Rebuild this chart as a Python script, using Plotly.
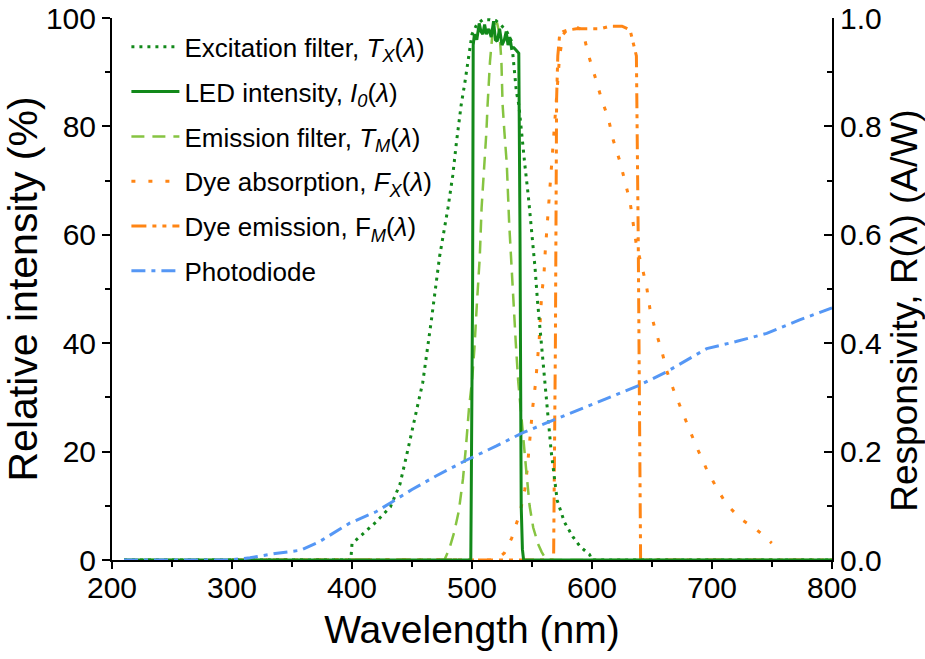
import plotly.graph_objects as go

# ---- spectral data (wavelength in nm) ----
# Excitation filter transmission T_X (%)
exc_wl = [210, 300, 399, 400, 410, 420, 432, 440, 446, 452, 459, 466, 473, 480, 484,
          487, 491, 494, 497, 500, 504, 509, 515, 520, 525, 529, 533, 535, 537, 539,
          541, 544, 547, 550, 552.5, 554.5, 557, 559, 562, 566, 571, 577, 584, 590,
          598, 600, 700, 800]
exc_val = [0, 0, 0, 3, 5, 7, 9.8, 14, 19.8, 26, 32.8, 44, 56, 65, 71,
           77, 84, 88, 93, 97, 98.8, 99.7, 99.7, 99.5, 98.5, 97.5, 95.7, 91, 86.4, 84,
           79, 73, 67, 60.5, 54, 48, 42, 36, 29, 20, 11, 7, 4.3, 2.5,
           1, 0, 0, 0]

# LED intensity I_0 (%)
led_wl = [210, 300, 400, 499, 500.5, 501, 502, 504, 506, 507.5, 509, 510.5, 512, 514,
          516, 518, 519.5, 521, 523, 525, 527, 528.5, 530, 531.5, 533, 535, 537, 539,
          540, 541, 542, 543, 600, 700, 800]
led_val = [0, 0, 0, 0, 50, 95, 97, 96, 99, 97.5, 97, 98.8, 97, 98,
           96.5, 99.4, 96, 95.7, 98, 95, 96, 97.5, 95, 96.5, 94.4, 94.5, 94, 93.5,
           60, 10, 2, 0, 0, 0, 0]

# Emission filter transmission T_M (%)
emf_wl = [210, 400, 477, 481, 485, 489, 492.5, 495, 497.5, 500, 502, 504, 506.5, 508,
          509.5, 512, 513, 515, 517, 519, 521, 523, 524.5, 525.5, 527, 529, 531, 533,
          534.5, 536.5, 538.5, 540, 543, 545, 548, 551, 555, 558, 562, 600, 800]
emf_val = [0, 0, 0, 2, 5, 9, 15, 21, 28, 33, 39, 47, 56, 65,
           70, 79, 84, 92, 97, 99, 99, 97, 92, 84, 79, 73, 62, 53,
           47, 40, 33, 29, 22, 17, 10, 6, 3, 1.5, 0, 0, 0]

# Dye absorption F_X (%)
abs_wl = [300, 400, 500, 520, 527, 533, 540, 544, 546, 548, 550.5, 553, 556, 558, 560,
          561, 562.2, 563.6, 565, 566.4, 569, 571, 573, 576, 580, 585, 590, 594, 597,
          602.5, 608, 613.6, 617.8, 623.3, 627.5, 631.7, 634.4, 637.2, 641.4, 645.6,
          648.3, 652.5, 658.1, 662.3, 667.8, 674.7, 681.1, 688.1, 695, 703.1, 711.7,
          723.3, 737.2, 749.8]
abs_val = [0, 0, 0, 0, 1.3, 4, 8.7, 13, 16.7, 22, 28, 32.7, 40.7, 48.8, 52.8,
           56.8, 60.5, 64.8, 68.5, 72.8, 80.6, 87, 93, 97, 98, 98.5, 98, 96, 93.2,
           89.2, 85, 81.5, 77.4, 73.5, 69.8, 66.1, 62, 57.8, 54.4, 50.3,
           46.3, 42.6, 38.6, 34.9, 31.5, 27.5, 24.1, 20.4, 17, 13.6, 10.4,
           7.7, 5.6, 3.1]

# Dye emission F_M (%)
dem_wl = [300, 400, 500, 568, 569.5, 570.5, 571.5, 573, 576, 580, 587, 598, 607, 615,
          625, 631.7, 634, 637, 638.5, 639.5, 640.5, 700, 800]
dem_val = [0, 0, 0, 0, 40, 85, 93, 96.8, 97.5, 97.8, 98, 98, 98, 98.5,
           98.5, 97.8, 95.7, 93, 60, 20, 0, 0, 0]

# Photodiode responsivity R (A/W), right axis
pd_wl = [210, 250, 298, 315, 336, 357, 373, 398, 420, 434, 450, 470, 496, 520, 542.5,
         570, 609.4, 640, 662, 680, 695.6, 720, 745.6, 773, 795.6, 800]
pd_val = [0, 0, 0, 0.004, 0.012, 0.018, 0.034, 0.068, 0.089, 0.108, 0.13, 0.155,
          0.185, 0.21, 0.235, 0.26, 0.295, 0.323, 0.347, 0.37, 0.39, 0.403, 0.418,
          0.443, 0.461, 0.465]

# tick marks of the plain top frame axis
top_ticks = list(range(0, 12))

DARK_GREEN = "#12891a"
LIGHT_GREEN = "#86c441"
ORANGE = "#ff8514"
BLUE = "#5597f5"
FONT = "Liberation Sans, Arial, sans-serif"

fig = go.Figure()

series = [
    (pd_wl, pd_val, "Photodiode", BLUE, "14px,6px,4px,6px", 3, "y2", 6),
    (abs_wl, abs_val, "Dye absorption, <i>F<sub>X</sub></i>(<i>λ</i>)", ORANGE, "4px,13px", 3, "y", 4),
    (dem_wl, dem_val, "Dye emission, F<sub><i>M</i></sub>(<i>λ</i>)", ORANGE, "15px,6px,4px,6px,4px,6px", 3, "y", 5),
    (emf_wl, emf_val, "Emission filter, <i>T<sub>M</sub></i>(<i>λ</i>)", LIGHT_GREEN, "13px,8px", 2.5, "y", 3),
    (exc_wl, exc_val, "Excitation filter, <i>T<sub>X</sub></i>(<i>λ</i>)", DARK_GREEN, "3px,5px", 3, "y", 1),
    (led_wl, led_val, "LED intensity, <i>I<sub>0</sub></i>(<i>λ</i>)", DARK_GREEN, "solid", 3, "y", 2),
]

for wl, val, name, color, dash, width, yax, rank in series:
    fig.add_trace(go.Scatter(
        x=wl, y=val, name=name, mode="lines", yaxis=yax,
        line=dict(color=color, dash=dash, width=width),
        legendgroup=name, legendrank=rank,
    ))

axis_line = dict(showline=True, linecolor="black", linewidth=2, showgrid=False,
                 zeroline=False, automargin=False)

fig.update_layout(
    width=925, height=659,
    margin=dict(l=112, r=93, t=18, b=99),
    paper_bgcolor="white", plot_bgcolor="white",
    font=dict(family=FONT, color="black"),
    showlegend=True,
    legend=dict(x=0.02, y=0.99, xanchor="left", yanchor="top",
                bgcolor="rgba(0,0,0,0)", font=dict(size=26, family=FONT),
                tracegroupgap=8, itemwidth=48),
    xaxis=dict(range=[200, 800], dtick=100, tick0=200, ticks="outside", ticklen=7,
               tickwidth=2, tickcolor="black", tickfont=dict(size=30),
               ticklabelstandoff=-7,
               minor=dict(dtick=50, ticks="outside", ticklen=5, tickwidth=2,
                          tickcolor="black"),
               title=dict(text="Wavelength (nm)", font=dict(size=39), standoff=13),
               **axis_line),
    xaxis2=dict(range=[0, 11], overlaying="x", side="top", anchor="y",
                tickvals=top_ticks, ticks="inside", ticklen=8, tickwidth=2,
                tickcolor="black", showticklabels=False, **axis_line),
    yaxis=dict(range=[0, 100], dtick=20, ticks="outside", ticklen=8, tickwidth=2,
               tickcolor="black", tickfont=dict(size=30),
               minor=dict(dtick=10, ticks="outside", ticklen=5, tickwidth=2,
                          tickcolor="black"),
               title=dict(text="Relative intensity (%)", font=dict(size=41), standoff=4),
               **axis_line),
    yaxis2=dict(range=[0, 1], dtick=0.2, tickformat=".1f", overlaying="y",
                side="right", anchor="x", ticks="inside", ticklen=8, tickwidth=2,
                tickcolor="black", tickfont=dict(size=30),
                minor=dict(dtick=0.1, ticks="inside", ticklen=5, tickwidth=2,
                           tickcolor="black"),
                **axis_line),
    annotations=[dict(
        text="Responsivity, R(λ) (A/W)", textangle=-90, showarrow=False,
        xref="paper", yref="paper", x=1, y=0.46, xanchor="center", yanchor="middle",
        xshift=73, font=dict(size=37, family=FONT),
    )],
)

fig.write_html("out.html")
